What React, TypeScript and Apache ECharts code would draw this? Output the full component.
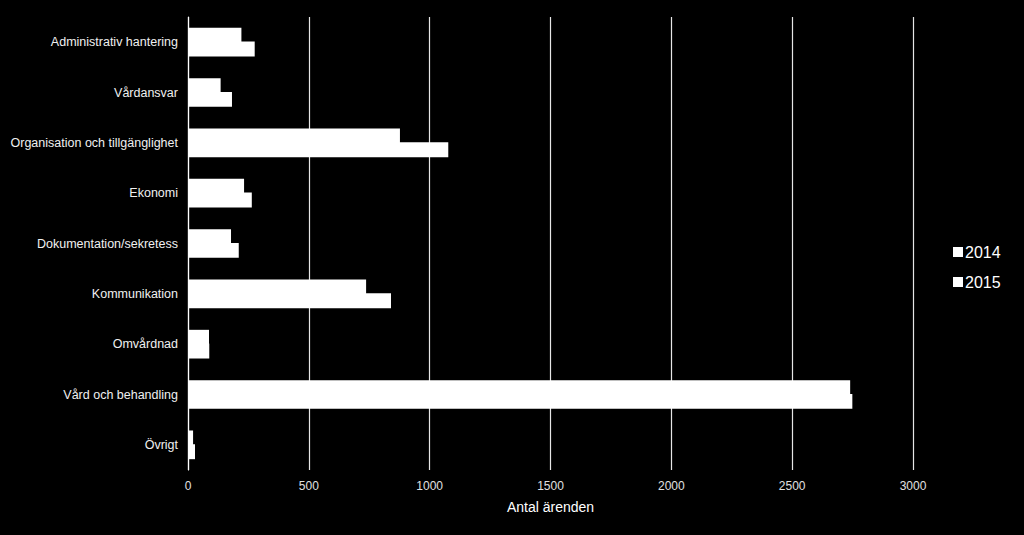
import React, { useEffect, useRef } from 'react'
import * as echarts from 'echarts'

const categories = [
  'Administrativ hantering',
  'Vårdansvar',
  'Organisation och tillgänglighet',
  'Ekonomi',
  'Dokumentation/sekretess',
  'Kommunikation',
  'Omvårdnad',
  'Vård och behandling',
  'Övrigt',
]
const values2014 = [221, 135, 877, 232, 178, 737, 87, 2740, 21]
const values2015 = [276, 182, 1077, 264, 210, 840, 88, 2749, 29]

export default function App(): JSX.Element {
  const chartRef = useRef<HTMLDivElement>(null)

  useEffect(() => {
    document.body.style.margin = '0'
    document.body.style.background = '#000'
    if (!chartRef.current) return
    const chart = echarts.init(chartRef.current, null, { renderer: 'svg' })
    const font = 'Liberation Sans, Arial, sans-serif'

    chart.setOption({
      animation: false,
      backgroundColor: '#000',
      textStyle: { fontFamily: font },
      legend: {
        orient: 'vertical',
        left: 948,
        top: 239,
        itemWidth: 10,
        itemHeight: 10,
        itemGap: 14,
        icon: 'rect',
        textStyle: { color: '#fff', fontSize: 16, fontFamily: font, padding: [0, 0, 0, -3] },
        data: ['2014', '2015'],
      },
      grid: { left: 188, right: 111, top: 17, bottom: 65, containLabel: false },
      xAxis: {
        type: 'value',
        min: 0,
        max: 3000,
        interval: 500,
        name: 'Antal ärenden',
        nameLocation: 'middle',
        nameGap: 30,
        nameTextStyle: { color: '#fff', fontSize: 14, fontFamily: font },
        axisLine: { show: false },
        axisTick: { show: false },
        axisLabel: { color: '#e0e0e0', fontSize: 12, margin: 10, formatter: (v: number) => String(v) },
        splitLine: { show: true, lineStyle: { color: '#e6e6e6', width: 1.2 } },
      },
      yAxis: {
        type: 'category',
        inverse: true,
        data: categories,
        axisLine: { show: true, lineStyle: { color: '#fff', width: 1.2 } },
        axisTick: { show: false },
        axisLabel: { color: '#f0f0f0', fontSize: 12.5, margin: 10 },
        splitLine: { show: false },
      },
      series: [
        {
          name: '2014',
          type: 'bar',
          data: values2014,
          barGap: '-8%',
          barCategoryGap: '43%',
          itemStyle: { color: '#fff', borderWidth: 0 },
        },
        {
          name: '2015',
          type: 'bar',
          data: values2015,
          barGap: '-8%',
          barCategoryGap: '43%',
          itemStyle: { color: '#fff', borderWidth: 0 },
        },
      ],
    })

    return () => chart.dispose()
  }, [])

  return <div ref={chartRef} style={{ width: 1024, height: 535, background: '#000' }} />
}
